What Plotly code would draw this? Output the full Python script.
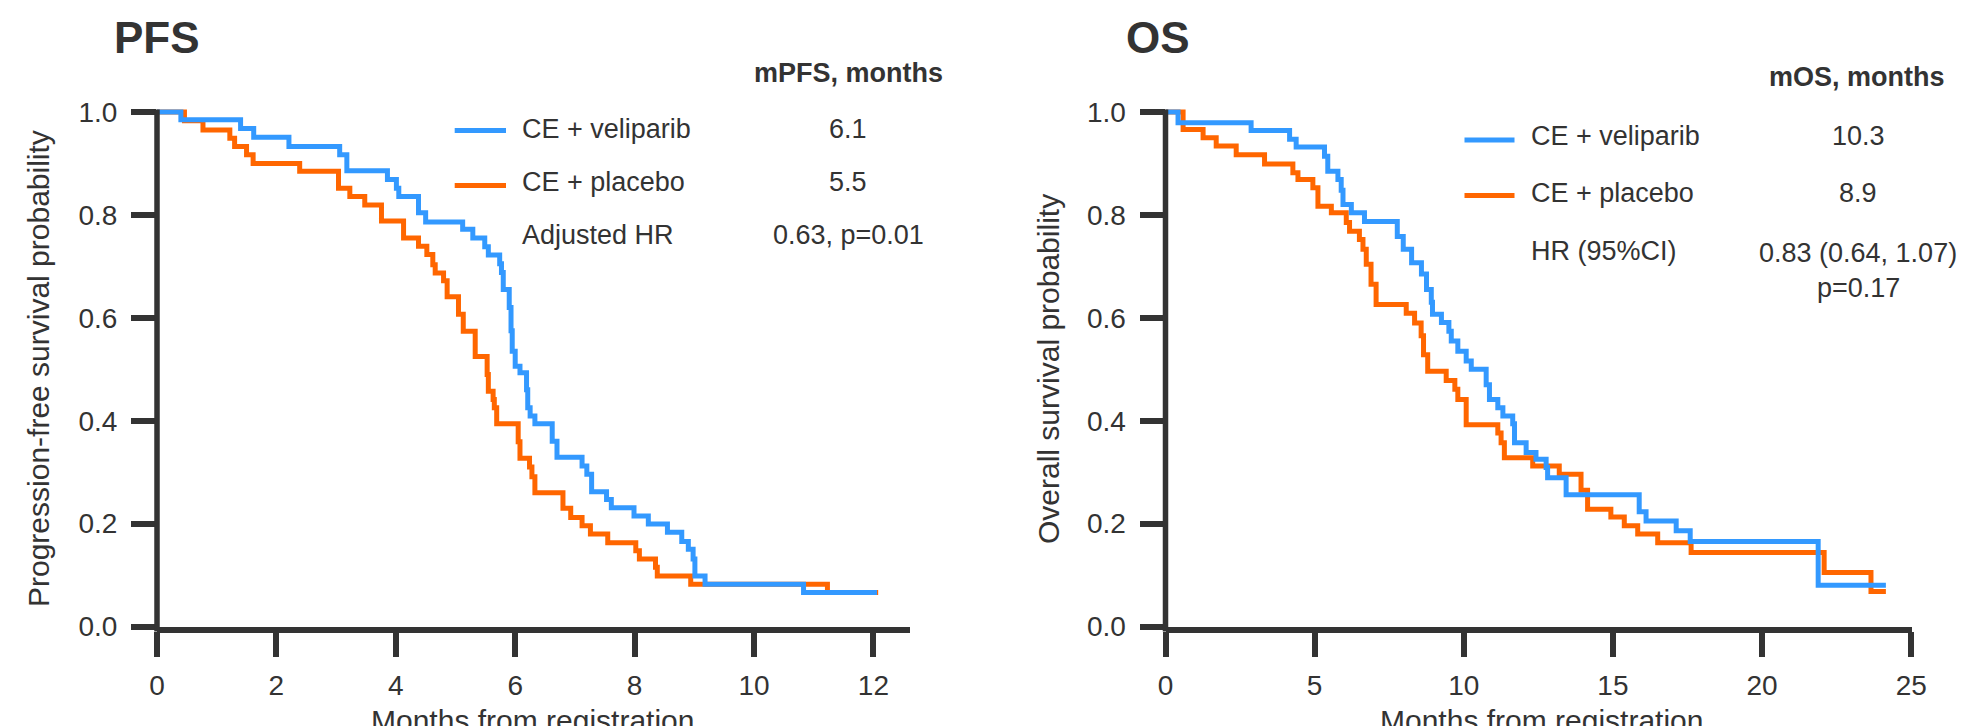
import plotly.graph_objects as go

# ---------------- data ----------------
series_names = ["CE + veliparib", "CE + placebo"]

pfs_vel_t = [0, 0.40, 1.40, 1.62, 2.21, 3.06, 3.18, 3.86, 4.01, 4.05, 4.38, 4.50, 5.12, 5.29,
             5.49, 5.55, 5.74, 5.77, 5.80, 5.90, 5.93, 5.95, 6.00, 6.08, 6.19, 6.21, 6.25, 6.33,
             6.62, 6.70, 7.12, 7.20, 7.28, 7.53, 7.61, 7.99, 8.23, 8.55, 8.79, 8.90, 8.98, 9.01,
             9.18, 10.83, 12.06]
pfs_vel_s = [1.0, 0.985, 0.968, 0.951, 0.933, 0.917, 0.886, 0.869, 0.852, 0.836, 0.804, 0.786,
             0.772, 0.755, 0.738, 0.722, 0.705, 0.688, 0.655, 0.62, 0.575, 0.535, 0.506, 0.493,
             0.46, 0.425, 0.409, 0.394, 0.36, 0.329, 0.312, 0.296, 0.262, 0.247, 0.231, 0.215,
             0.199, 0.183, 0.165, 0.150, 0.131, 0.098, 0.082, 0.066, 0.066]

pfs_pla_t = [0, 0.46, 0.77, 1.22, 1.30, 1.50, 1.61, 2.39, 3.04, 3.23, 3.48, 3.76, 4.13, 4.38,
             4.52, 4.62, 4.66, 4.80, 4.86, 5.05, 5.13, 5.33, 5.53, 5.55, 5.63, 5.65, 5.69, 6.05,
             6.08, 6.24, 6.28, 6.33, 6.80, 6.93, 7.12, 7.26, 7.55, 8.02, 8.08, 8.35, 8.38, 8.94,
             11.23, 12.08]
pfs_pla_s = [1.0, 0.983, 0.965, 0.949, 0.933, 0.917, 0.900, 0.885, 0.852, 0.836, 0.819, 0.788,
             0.755, 0.739, 0.723, 0.703, 0.687, 0.672, 0.641, 0.607, 0.574, 0.525, 0.49, 0.457,
             0.441, 0.425, 0.394, 0.359, 0.327, 0.31, 0.291, 0.26, 0.23, 0.212, 0.196, 0.18,
             0.163, 0.147, 0.131, 0.115, 0.098, 0.082, 0.066, 0.066]

os_vel_t = [0, 0.42, 2.87, 4.16, 4.38, 5.33, 5.44, 5.78, 5.89, 5.95, 6.23, 6.67, 7.77, 7.97,
            8.25, 8.58, 8.75, 8.91, 8.95, 9.25, 9.50, 9.58, 9.80, 10.08, 10.25, 10.75, 10.86,
            11.14, 11.31, 11.64, 11.70, 12.09, 12.42, 12.76, 12.81, 13.43, 15.88, 16.11, 17.12,
            17.59, 21.88, 24.15]
os_vel_s = [1.0, 0.979, 0.964, 0.947, 0.932, 0.914, 0.885, 0.869, 0.848, 0.82, 0.804, 0.787,
            0.758, 0.733, 0.707, 0.685, 0.655, 0.63, 0.607, 0.591, 0.574, 0.555, 0.535, 0.516,
            0.5, 0.47, 0.441, 0.425, 0.409, 0.394, 0.357, 0.338, 0.325, 0.309, 0.289, 0.256,
            0.223, 0.205, 0.186, 0.165, 0.08, 0.08]

os_pla_t = [0, 0.59, 1.26, 1.70, 2.37, 3.32, 4.27, 4.44, 4.94, 5.11, 5.56, 6.06, 6.17, 6.50,
            6.62, 6.73, 6.89, 7.06, 8.07, 8.35, 8.57, 8.65, 8.79, 9.41, 9.70, 9.80, 10.08, 11.14,
            11.25, 11.36, 12.31, 13.20, 13.93, 14.15, 14.93, 15.38, 15.83, 16.50, 17.62, 22.08,
            23.65, 24.15]
os_pla_s = [1.0, 0.966, 0.95, 0.934, 0.917, 0.899, 0.882, 0.869, 0.853, 0.817, 0.804, 0.785,
            0.768, 0.752, 0.733, 0.704, 0.665, 0.626, 0.609, 0.59, 0.565, 0.528, 0.496, 0.478,
            0.461, 0.441, 0.392, 0.376, 0.357, 0.328, 0.312, 0.296, 0.265, 0.228, 0.213, 0.196,
            0.18, 0.163, 0.144, 0.105, 0.068, 0.068]

pfs_xticks = [0, 2, 4, 6, 8, 10, 12]
os_xticks = [0, 5, 10, 15, 20, 25]
y_ticks = [0.0, 0.2, 0.4, 0.6, 0.8, 1.0]
y_ticktext = ["0.0", "0.2", "0.4", "0.6", "0.8", "1.0"]

pfs_title, os_title = "PFS", "OS"
pfs_ytitle = "Progression-free survival probability"
os_ytitle = "Overall survival probability"
xtitle = "Months from registration"
pfs_header, os_header = "mPFS, months", "mOS, months"
pfs_medians = ["6.1", "5.5"]
os_medians = ["10.3", "8.9"]
pfs_hr_label, pfs_hr_value = "Adjusted HR", "0.63, p=0.01"
os_hr_label, os_hr_value, os_p_value = "HR (95%CI)", "0.83 (0.64, 1.07)", "p=0.17"

# ---------------- styling ----------------
W, H = 1970, 726
BLUE, ORANGE, INK = "#3399ff", "#ff6600", "#333333"
FONT = "Liberation Sans, Arial, sans-serif"
CW = 5      # curve width
AW = 5.5    # axis / tick width


def px(x):
    return x / W


def py(y):
    return 1 - y / H


fig = go.Figure()

# placebo first, veliparib drawn on top
for xa, ya, t, s, c in [("x", "y", pfs_pla_t, pfs_pla_s, ORANGE),
                        ("x", "y", pfs_vel_t, pfs_vel_s, BLUE),
                        ("x2", "y2", os_pla_t, os_pla_s, ORANGE),
                        ("x2", "y2", os_vel_t, os_vel_s, BLUE)]:
    fig.add_trace(go.Scatter(x=t, y=s, mode="lines", line=dict(color=c, width=CW, shape="hv"),
                             xaxis=xa, yaxis=ya, showlegend=False, hoverinfo="skip"))

y_bottom_px, y_top_px = 618.5, 104
ymax = 1.02
ydom = [py(y_bottom_px), py(y_bottom_px - (y_bottom_px - y_top_px) * ymax)]

pfs_x0, pfs_ppm, pfs_xmax = 149, 59.7, 12.62
os_x0, os_ppm, os_xmax = 1157.5, 29.83, 25.02

axis_common = dict(showgrid=False, zeroline=False, ticks="outside", ticklen=25, tickwidth=AW,
                   tickcolor=INK, tickfont=dict(family=FONT, size=28, color=INK))

fig.update_layout(
    width=W, height=H,
    margin=dict(l=0, r=0, t=0, b=0, autoexpand=False),
    paper_bgcolor="white", plot_bgcolor="white",
    xaxis=dict(domain=[px(pfs_x0), px(pfs_x0 + pfs_ppm * pfs_xmax)], range=[0, pfs_xmax],
               tickvals=pfs_xticks, showline=True, linewidth=AW, linecolor=INK,
               ticklabelstandoff=4, anchor="y", **axis_common),
    yaxis=dict(domain=ydom, range=[0, ymax], tickvals=y_ticks, ticktext=y_ticktext,
               showline=False, ticklabelstandoff=8, anchor="x", **axis_common),
    xaxis2=dict(domain=[px(os_x0), px(os_x0 + os_ppm * os_xmax)], range=[0, os_xmax],
                tickvals=os_xticks, showline=True, linewidth=AW, linecolor=INK,
                ticklabelstandoff=4, anchor="y2", **axis_common),
    yaxis2=dict(domain=ydom, range=[0, ymax], tickvals=y_ticks, ticktext=y_ticktext,
                showline=False, ticklabelstandoff=8, anchor="x2", **axis_common),
)

shapes = []
# vertical axis lines from 0 to 1.0
for x0 in (pfs_x0, os_x0):
    shapes.append(dict(type="line", xref="paper", yref="paper", x0=px(x0), x1=px(x0),
                       y0=py(y_bottom_px + 5), y1=py(y_top_px - 2.5),
                       line=dict(color=INK, width=AW)))
# legend line samples
for (xa, xb, yb, yo) in [(446.7, 498, 122.5, 177.5), (1456.5, 1506.5, 132, 187.5)]:
    shapes.append(dict(type="line", xref="paper", yref="paper", x0=px(xa), x1=px(xb),
                       y0=py(yb), y1=py(yb), line=dict(color=BLUE, width=5)))
    shapes.append(dict(type="line", xref="paper", yref="paper", x0=px(xa), x1=px(xb),
                       y0=py(yo), y1=py(yo), line=dict(color=ORANGE, width=5)))
fig.update_layout(shapes=shapes)

ann = []


def text(x, y, s, size=28, anchor="left", bold=False, angle=0):
    ann.append(dict(xref="paper", yref="paper", x=px(x), y=py(y), text=f"<b>{s}</b>" if bold else s,
                    showarrow=False, xanchor=anchor, yanchor="middle", textangle=angle,
                    font=dict(family=FONT, size=size, color=INK)))


# panel titles
text(104, 29, pfs_title, size=44, bold=True)
text(1116, 29, os_title, size=44, bold=True)
# axis titles
text(30, 361, pfs_ytitle, size=30, anchor="center", angle=-90)
text(1040, 361, os_ytitle, size=30, anchor="center", angle=-90)
text(524, 712, xtitle, size=30, anchor="center")
text(1533, 712, xtitle, size=30, anchor="center")
# PFS legend table
text(840, 65, pfs_header, size=27, bold=True, anchor="center")
text(512, 121, series_names[0], size=27)
text(512, 174, series_names[1], size=27)
text(512, 227, pfs_hr_label, size=27)
text(840, 121, pfs_medians[0], size=27, anchor="center")
text(840, 174, pfs_medians[1], size=27, anchor="center")
text(840, 227, pfs_hr_value, size=27, anchor="center")
# OS legend table
text(1849, 69, os_header, size=27, bold=True, anchor="center")
text(1521, 128, series_names[0], size=27)
text(1521, 185, series_names[1], size=27)
text(1521, 243, os_hr_label, size=27)
text(1850, 128, os_medians[0], size=27, anchor="center")
text(1850, 185, os_medians[1], size=27, anchor="center")
text(1850, 245, os_hr_value, size=27, anchor="center")
text(1850, 280, os_p_value, size=27, anchor="center")
fig.update_layout(annotations=ann)

fig.write_html("out.html")
